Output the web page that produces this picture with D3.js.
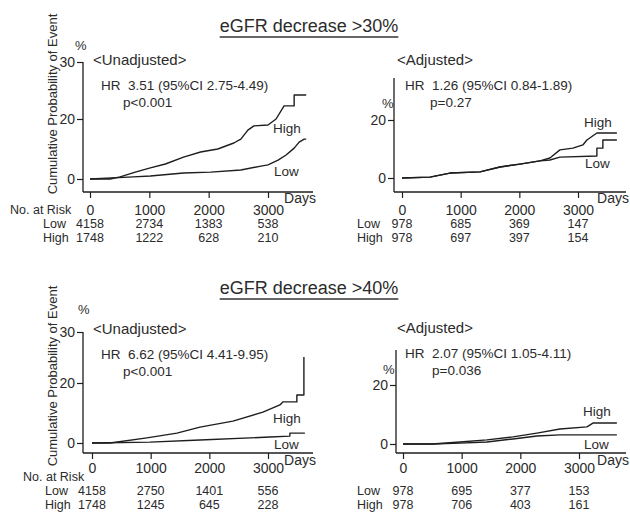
<!DOCTYPE html>
<html><head><meta charset="utf-8">
<script src="https://cdn.jsdelivr.net/npm/d3@7"></script>
<style>
body{margin:0;background:#fff;}
svg text{font-family:"Liberation Sans",Arial,sans-serif;fill:#2b2b2b;white-space:pre;}
</style></head>
<body><svg id="c" width="630" height="512"></svg>
<script>
// ---------- data ----------
const xTicks = [0, 1000, 2000, 3000];
const yTicksUnadj = [0, 20, 30];
const yTicksAdj = [0, 20];
const groups = ["Low", "High"];

// eGFR decrease >30%, unadjusted
const u30HighDays = [0,339,508,763,1017,1271,1576,1864,2153,2424,2542,2661,2763,3000,3136,3271,3441,3441,3644];
const u30HighPct  = [0,0,0.7,2.3,3.7,5.0,7.3,9.0,10.0,12.0,13.3,16.3,17.7,18.0,20,22.3,22.3,24.2,24.2];
const u30LowDays  = [0,729,1017,1576,2034,2542,2881,3000,3170,3305,3441,3525,3610,3644];
const u30LowPct   = [0,0.7,1.0,2.0,2.3,3.0,4.3,4.7,6.3,8.0,10.3,12.3,13.3,13.3];
// eGFR decrease >30%, adjusted
const a30HighDays = [0,477,818,1329,1670,2010,2351,2521,2692,2913,3083,3152,3322,3663];
const a30HighPct  = [0,0.3,1.7,2.1,3.8,4.8,5.9,6.9,9.7,10.3,11.4,13.1,15.5,15.5];
const a30LowDays  = [0,477,818,1329,1670,2010,2351,2521,2692,3322,3322,3424,3424,3663];
const a30LowPct   = [0,0.3,1.7,2.1,3.8,4.8,5.9,6.2,7.2,7.6,10.3,10.3,13.1,13.1];
// eGFR decrease >40%, unadjusted
const u40HighDays = [0,307,937,1448,1840,2402,2913,3203,3254,3492,3492,3612,3612];
const u40HighPct  = [0,0,1.7,3.3,5.3,7.3,10.3,12.7,13.7,13.7,16,16,25.1];
const u40LowDays  = [0,988,1840,3032,3373,3373,3629];
const u40LowPct   = [0,0.3,1.0,2.0,2.3,3.3,3.3];
// eGFR decrease >40%, adjusted
const a40HighDays = [0,500,971,1431,1874,2283,2675,3135,3237,3645];
const a40HighPct  = [0,0,0.7,1.4,2.4,3.7,5.1,5.8,7.1,7.1];
const a40LowDays  = [0,500,971,1431,1874,2283,2675,3645];
const a40LowPct   = [0,0,0.3,0.7,1.7,2.7,3.1,3.1];

// numbers at risk
const risk30UnadjLow  = [4158, 2734, 1383, 538];
const risk30UnadjHigh = [1748, 1222, 628, 210];
const risk30AdjLow    = [978, 685, 369, 147];
const risk30AdjHigh   = [978, 697, 397, 154];
const risk40UnadjLow  = [4158, 2750, 1401, 556];
const risk40UnadjHigh = [1748, 1245, 645, 228];
const risk40AdjLow    = [978, 695, 377, 153];
const risk40AdjHigh   = [978, 706, 403, 161];

const titles = ["eGFR decrease >30%", "eGFR decrease >40%"];
const hrText = ["HR  3.51 (95%CI 2.75-4.49)", "HR  1.26 (95%CI 0.84-1.89)", "HR  6.62 (95%CI 4.41-9.95)", "HR  2.07 (95%CI 1.05-4.11)"];
const pText = ["p<0.001", "p=0.27", "p<0.001", "p=0.036"];

// ---------- drawing ----------
const svg = d3.select("#c");
const ink = "#1e1e1e";
const zip = (a, b) => a.map((d, i) => [d, b[i]]);
const fs = "12.5px";

function panel(o) {
  const g = svg.append("g");
  const x = d3.scaleLinear().domain([0, 3000]).range([o.x0, o.x3000]);
  const y = o.unadj
    ? d3.scaleLinear().domain([0, 20, 30]).range([o.y0, o.y20, o.y30])
    : d3.scaleLinear().domain([0, 20]).range([o.y0, o.y20]);

  // y axis
  const ya = d3.axisLeft(y).tickValues(o.unadj ? yTicksUnadj : yTicksAdj).tickSize(6).tickPadding(2).tickFormat(d3.format("d"));
  const yg = g.append("g").attr("transform", `translate(${o.yAxisX},0)`).call(ya);
  yg.select(".domain").remove();
  yg.selectAll("line").attr("stroke", ink).attr("stroke-width", 1.2);
  yg.selectAll("text").style("font-size", "14px").attr("fill", "#2b2b2b");
  g.append("line").attr("x1", o.yAxisX).attr("x2", o.yAxisX).attr("y1", o.yTop).attr("y2", o.xAxisY)
    .attr("stroke", ink).attr("stroke-width", 1.3);
  g.append("text").attr("x", o.pctX).attr("y", o.pctY).style("font-size", "13px").text("%");

  // x axis
  const xa = d3.axisBottom(x).tickValues(xTicks).tickSize(6).tickPadding(o.tickPad).tickFormat(d3.format("d"));
  const xg = g.append("g").attr("transform", `translate(0,${o.xAxisY})`).call(xa);
  xg.select(".domain").remove();
  xg.selectAll("line").attr("stroke", ink).attr("stroke-width", 1.2);
  xg.selectAll("text").style("font-size", "14px").attr("fill", "#2b2b2b");
  g.append("line").attr("x1", o.yAxisX).attr("x2", o.xEnd).attr("y1", o.xAxisY).attr("y2", o.xAxisY)
    .attr("stroke", ink).attr("stroke-width", 1.3);
  g.append("text").attr("x", o.xEnd + 3).attr("y", o.daysY).attr("text-anchor", "end")
    .style("font-size", "14px").text("Days");

  // curves
  const line = d3.line().x(d => x(d[0])).y(d => y(d[1]));
  [o.high, o.low].forEach(s => {
    g.append("path").attr("d", line(s)).attr("fill", "none").attr("stroke", ink)
      .attr("stroke-width", 1.4).attr("stroke-linejoin", "round");
  });
  g.append("text").attr("x", o.labX).attr("y", o.highY).style("font-size", "13.5px").text("High");
  g.append("text").attr("x", o.labX + 1).attr("y", o.lowY).style("font-size", "13.5px").text("Low");

  // annotations
  g.append("text").attr("x", o.subX).attr("y", o.subY).style("font-size", "15px")
    .text(o.unadj ? "<Unadjusted>" : "<Adjusted>");
  g.append("text").attr("x", o.subX + 8).attr("y", o.subY + 25).style("font-size", "13.5px").text(o.hr);
  g.append("text").attr("x", o.pX).attr("y", o.subY + 42).style("font-size", "13.5px").text(o.p);

  // risk table
  if (o.noRiskX !== undefined) {
    g.append("text").attr("x", o.noRiskX).attr("y", o.noRiskY).style("font-size", fs).text("No. at Risk");
  }
  [[o.riskLow, o.lowRowY, groups[0]], [o.riskHigh, o.highRowY, groups[1]]].forEach(([vals, ry, name]) => {
    g.append("text").attr("x", o.rowLabX).attr("y", ry).style("font-size", fs).text(name);
    g.selectAll(null).data(vals).enter().append("text")
      .attr("x", (d, i) => x(xTicks[i])).attr("y", ry)
      .attr("text-anchor", "middle").style("font-size", fs).text(d => d);
  });
}

// titles
[[titles[0], 32], [titles[1], 294]].forEach(([t, ty]) => {
  const tx = svg.append("text").attr("x", 309).attr("y", ty).attr("text-anchor", "middle")
    .style("font-size", "18px").text(t);
  const w = tx.node().getComputedTextLength();
  svg.append("line").attr("x1", 309 - w / 2).attr("x2", 309 + w / 2).attr("y1", ty + 5).attr("y2", ty + 5)
    .attr("stroke", "#333").attr("stroke-width", 1.3);
});

// y axis titles
[104, 376].forEach(cy => {
  svg.append("text").attr("transform", `translate(57,${cy}) rotate(-90)`).attr("text-anchor", "middle")
    .style("font-size", "13px").text("Cumulative Probability of Event");
});

panel({unadj: true, yAxisX: 83, yTop: 62, y0: 179, y20: 119, y30: 62, xAxisY: 192, x0: 90, x3000: 268, xEnd: 313,
  tickPad: 7, daysY: 203, pctX: 75, pctY: 50,
  high: zip(u30HighDays, u30HighPct), low: zip(u30LowDays, u30LowPct),
  labX: 273, highY: 133, lowY: 176, subX: 93, subY: 65, pX: 123, hr: hrText[0], p: pText[0],
  noRiskX: 10, noRiskY: 214, rowLabX: 43, lowRowY: 228, highRowY: 242,
  riskLow: risk30UnadjLow, riskHigh: risk30UnadjHigh});

panel({unadj: false, yAxisX: 394, yTop: 78, y0: 178, y20: 120, xAxisY: 192, x0: 402, x3000: 578, xEnd: 626,
  tickPad: 7, daysY: 203, pctX: 382, pctY: 108,
  high: zip(a30HighDays, a30HighPct), low: zip(a30LowDays, a30LowPct),
  labX: 584, highY: 127, lowY: 168, subX: 397, subY: 65, pX: 430, hr: hrText[1], p: pText[1],
  rowLabX: 357, lowRowY: 228, highRowY: 242,
  riskLow: risk30AdjLow, riskHigh: risk30AdjHigh});

panel({unadj: true, yAxisX: 83, yTop: 332, y0: 443, y20: 383, y30: 332, xAxisY: 453, x0: 92, x3000: 268, xEnd: 313,
  tickPad: 4, daysY: 465, pctX: 78, pctY: 314,
  high: zip(u40HighDays, u40HighPct), low: zip(u40LowDays, u40LowPct),
  labX: 273, highY: 423, lowY: 449, subX: 93, subY: 334, pX: 123, hr: hrText[2], p: pText[2],
  noRiskX: 23, noRiskY: 481, rowLabX: 45, lowRowY: 495, highRowY: 509,
  riskLow: risk40UnadjLow, riskHigh: risk40UnadjHigh});

panel({unadj: false, yAxisX: 396, yTop: 350, y0: 444, y20: 385, xAxisY: 453, x0: 403, x3000: 579, xEnd: 626,
  tickPad: 4, daysY: 465, pctX: 383, pctY: 374,
  high: zip(a40HighDays, a40HighPct), low: zip(a40LowDays, a40LowPct),
  labX: 583, highY: 416, lowY: 449, subX: 397, subY: 333, pX: 432, hr: hrText[3], p: pText[3],
  rowLabX: 357, lowRowY: 495, highRowY: 509,
  riskLow: risk40AdjLow, riskHigh: risk40AdjHigh});
</script></body></html>
